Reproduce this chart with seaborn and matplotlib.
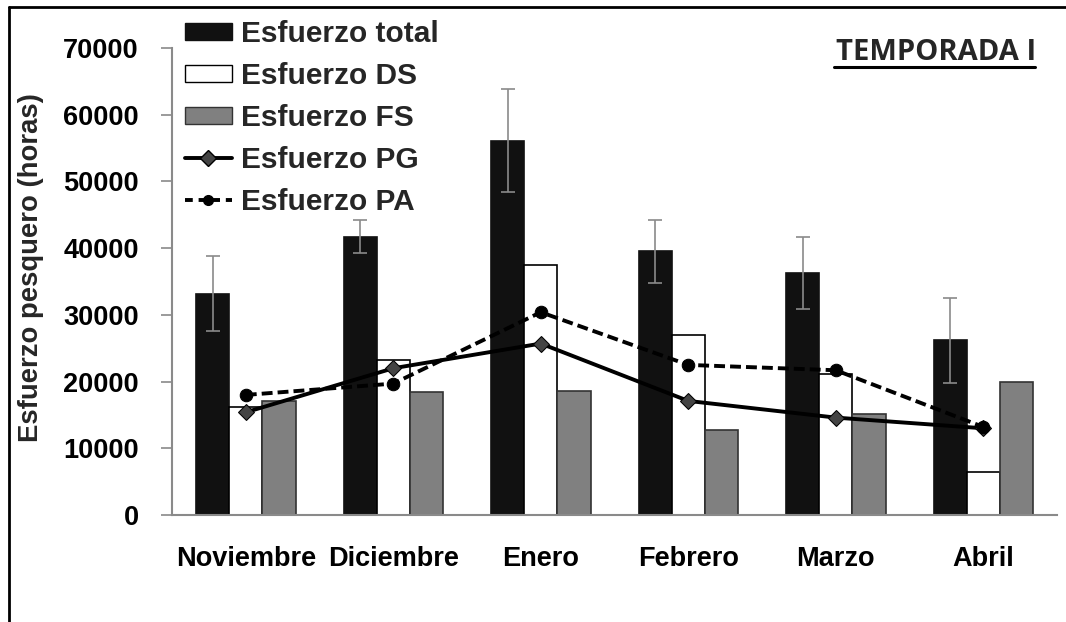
import numpy as np
import pandas as pd
import matplotlib
matplotlib.use('Agg')
import matplotlib.pyplot as plt
from matplotlib.patches import Patch
from matplotlib.lines import Line2D
import seaborn as sns

sns.set_theme(style='white')
plt.rcParams['font.family'] = ['Liberation Sans', 'DejaVu Sans']
plt.rcParams['font.weight'] = 'bold'

# data
meses = ['Noviembre', 'Diciembre', 'Enero', 'Febrero', 'Marzo', 'Abril']
esf_total = [33200, 41700, 56100, 39500, 36300, 26200]
esf_total_err = [5600, 2500, 7700, 4700, 5400, 6400]
esf_ds = [16200, 23300, 37500, 27000, 21200, 6500]
esf_fs = [17100, 18400, 18600, 12800, 15200, 19900]
esf_pg = [15400, 22000, 25700, 17100, 14600, 13000]
esf_pa = [18000, 19700, 30400, 22500, 21700, 13200]

series = ['Esfuerzo total', 'Esfuerzo DS', 'Esfuerzo FS']
df = pd.DataFrame({
    'mes': meses * 3,
    'serie': np.repeat(series, len(meses)),
    'valor': esf_total + esf_ds + esf_fs,
})

fig = plt.figure(figsize=(10.66, 6.22), dpi=100)
ax = fig.add_axes([0.1614, 0.172, 0.8302, 0.7508])

colores = {'Esfuerzo total': '#111111', 'Esfuerzo DS': 'white', 'Esfuerzo FS': '#808080'}
sns.barplot(data=df, x='mes', y='valor', hue='serie', order=meses, hue_order=series,
            palette=colores, width=0.675, errorbar=None, legend=False, ax=ax,
            saturation=1)

edges = {'Esfuerzo total': '#111111', 'Esfuerzo DS': 'black', 'Esfuerzo FS': '#333333'}
for cont, s in zip(ax.containers, series):
    for b in cont:
        b.set_edgecolor(edges[s])
        b.set_linewidth(1.2)

x = np.arange(len(meses))
bw = 0.675 / 3
ax.errorbar(x - bw, esf_total, yerr=esf_total_err, fmt='none', ecolor='#8a8a8a',
            elinewidth=1.2, capsize=5, capthick=1.2, zorder=3)

sns.lineplot(x=x, y=esf_pg, color='black', lw=2.8, marker='D', markersize=8,
             markerfacecolor='#444444', markeredgecolor='black', ax=ax, zorder=4)
sns.lineplot(x=x, y=esf_pa, color='black', lw=2.8, marker='o', markersize=9,
             markerfacecolor='black', markeredgecolor='black', ax=ax, zorder=4)
ax.lines[-1].set_dashes((2.8, 1.3))

ax.set_xlim(-0.5, len(meses) - 0.5)
ax.set_ylim(0, 70000)
ax.set_yticks(range(0, 70001, 10000))
ax.set_yticklabels([str(v) for v in range(0, 70001, 10000)], fontsize=19.5, fontweight='bold')
ax.set_xticks(x)
ax.set_xticklabels(meses, fontsize=19.5, fontweight='bold')
ax.set_xticks(np.arange(-0.5, len(meses)), minor=True)
ax.tick_params(axis='x', which='major', length=0, pad=22, colors='black')
ax.tick_params(axis='x', which='minor', length=8, width=1.2, color='#8a8a8a', direction='out')
ax.tick_params(axis='y', which='major', length=8, width=1.2, direction='out',
               left=True, pad=16, colors='black')
ax.tick_params(axis='y', color='#8a8a8a')
ax.set_xlabel('')
ax.set_ylabel('Esfuerzo pesquero (horas)', fontsize=19.8, fontweight='bold')
ax.yaxis.set_label_coords(-0.145, 0.53)
for s in ['top', 'right']:
    ax.spines[s].set_visible(False)
for s in ['left', 'bottom']:
    ax.spines[s].set_color('#8a8a8a')
    ax.spines[s].set_linewidth(1.5)

handles = [
    Patch(facecolor='#111111', edgecolor='#111111', label='Esfuerzo total'),
    Patch(facecolor='white', edgecolor='black', label='Esfuerzo DS'),
    Patch(facecolor='#808080', edgecolor='#333333', label='Esfuerzo FS'),
    Line2D([], [], color='black', lw=2.8, marker='D', markersize=8,
           markerfacecolor='#444444', markeredgecolor='black', label='Esfuerzo PG'),
    Line2D([], [], color='black', lw=2.8, marker='o', markersize=7,
           linestyle=(0, (2, 1.5)), label='Esfuerzo PA'),
]
leg = fig.legend(handles=handles, loc='upper left', bbox_to_anchor=(0.1738, 0.968),
                 frameon=False, handlelength=1.55, handleheight=0.5,
                 handletextpad=0.3, labelspacing=0.47, borderpad=0, borderaxespad=0,
                 prop={'weight': 'bold', 'size': 21.5})

fig.text(0.8785, 0.915, 'TEMPORADA I', fontsize=21, fontweight='bold',
         family=['Open Sans', 'DejaVu Sans'], ha='center', va='center')
fig.add_artist(Line2D([0.782, 0.971], [0.893, 0.893], color='black', lw=2.2,
                      transform=fig.transFigure))

# border lines of the original figure frame
fig.add_artist(Line2D([0.008, 1.0], [0.989, 0.989], color='black', lw=2, transform=fig.transFigure))
fig.add_artist(Line2D([0.0085, 0.0085], [0.0, 0.989], color='black', lw=2, transform=fig.transFigure))

fig.savefig('out.png', dpi=100)
